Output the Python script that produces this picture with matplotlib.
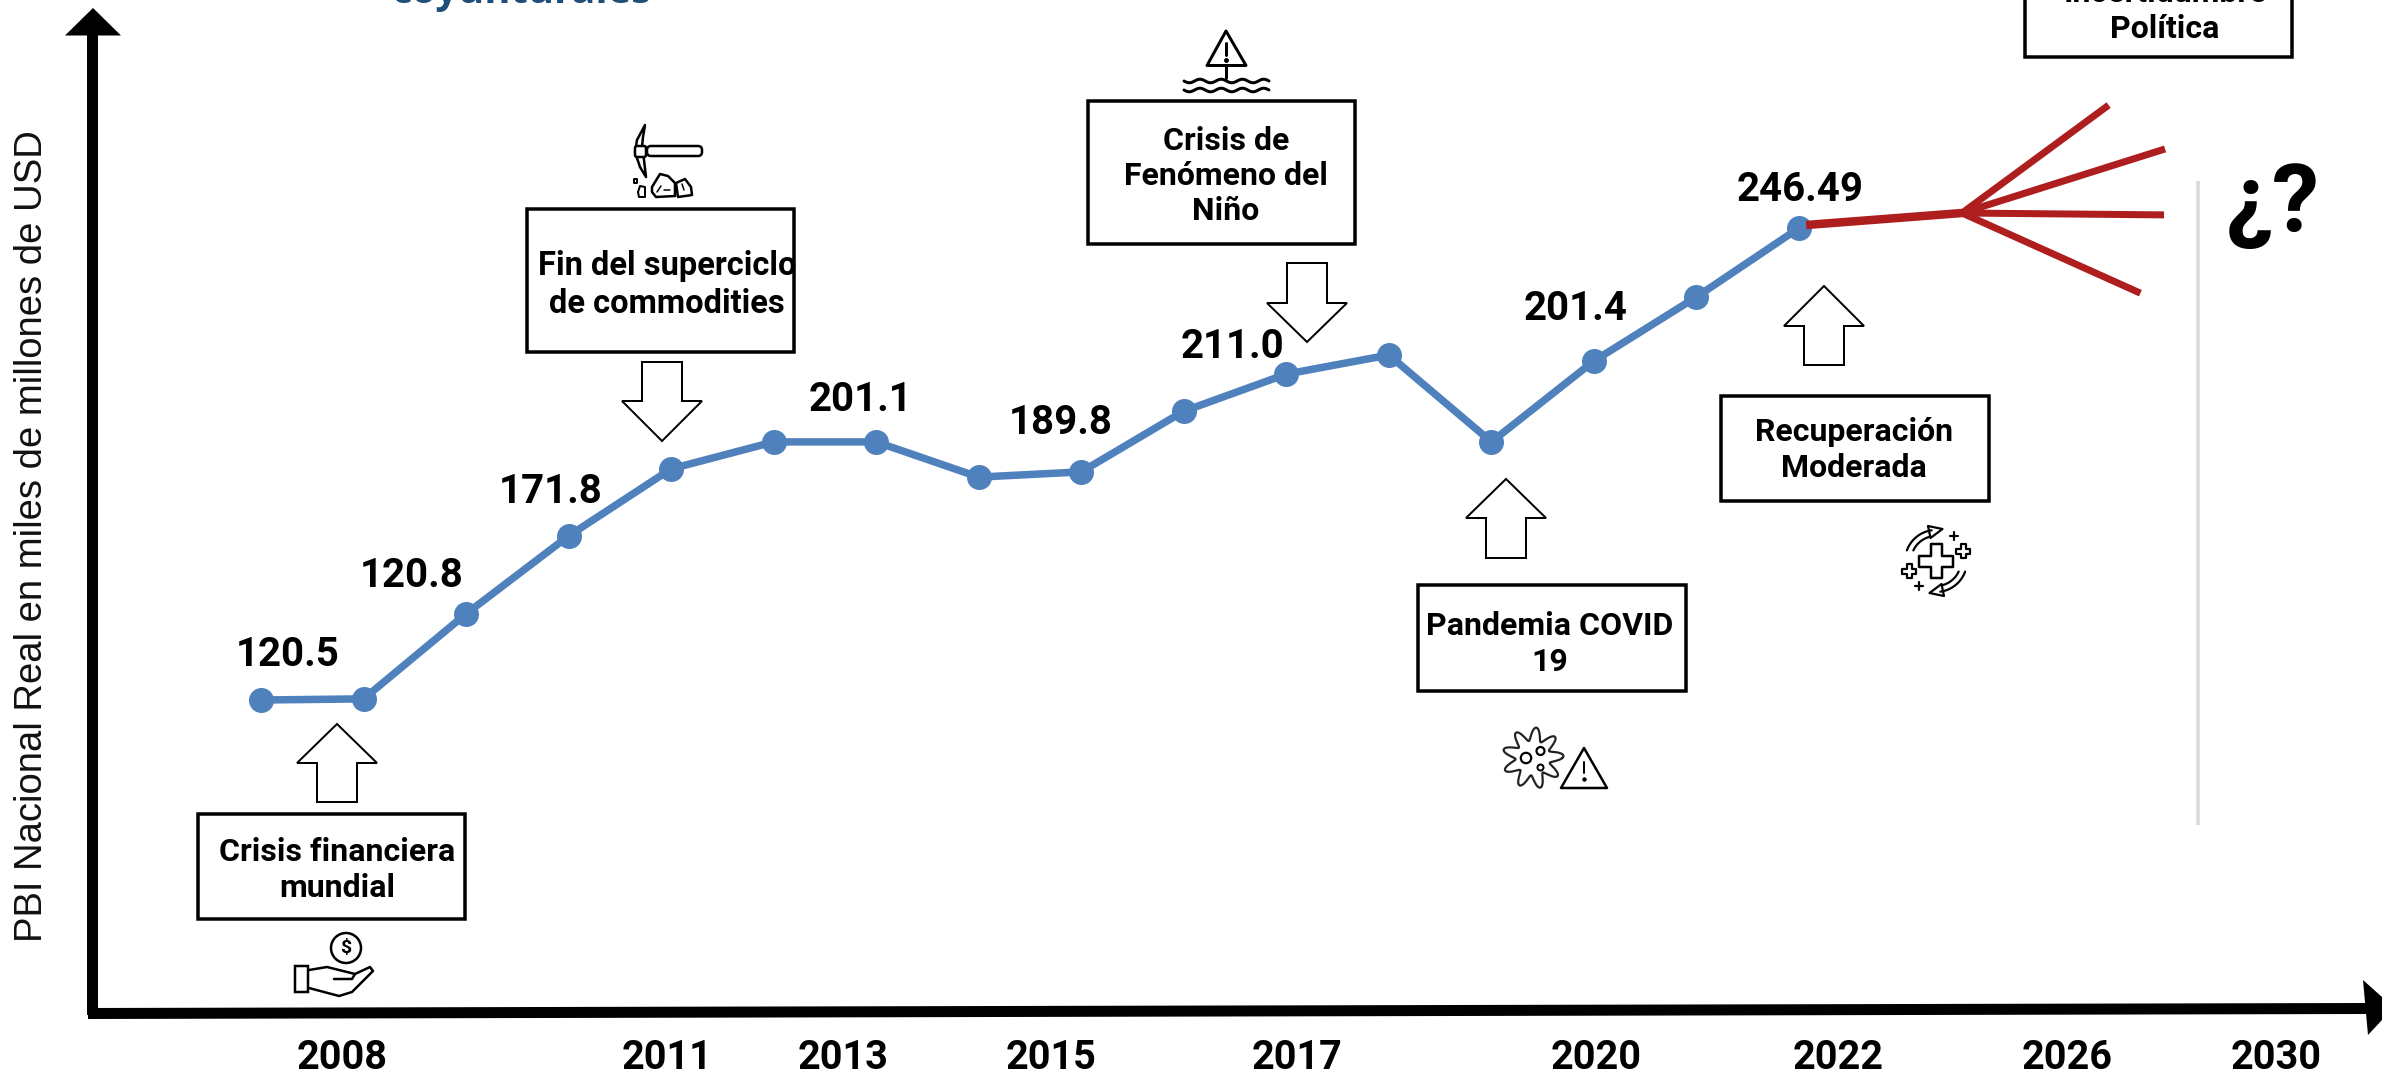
#!/usr/bin/env python3
import numpy as np
import matplotlib
matplotlib.use("Agg")
import matplotlib.pyplot as plt
from matplotlib.patches import Polygon, Rectangle, Circle, FancyBboxPatch

#data--------------------------------------------------------------------------
years = [2007, 2008, 2009, 2010, 2011, 2012, 2013, 2014, 2015, 2016, 2017, 2018,
         2019, 2020, 2021, 2022]
pbi = [120.5, 120.8, 143.5, 164.3, 182.2, 189.4, 189.4, 180.0, 181.4, 197.6, 207.5,
       212.6, 189.4, 211.0, 228.1, 246.49]

trunk_years = [2022.07, 2023.59]
trunk_vals = [247.3, 250.5]
branch_years = [2025.02, 2025.57, 2025.56, 2025.33]
branch_vals = [279.3, 267.6, 250.0, 229.1]

tick_labels = ['2008', '2011', '2013', '2015', '2017', '2020', '2022', '2026', '2030']
value_labels = ['120.5', '120.8', '171.8', '201.1', '189.8', '211.0', '201.4', '246.49']

box_texts = ['Crisis financiera\nmundial', 'Fin del superciclo\nde commodities',
             'Crisis de\nFenómeno del\nNiño', 'Pandemia COVID\n19',
             'Recuperación\nModerada', 'Incertidumbre\nPolítica']

#layout in pixels of the 2382x1075 picture-------------------------------------
W, H = 2382, 1075
tick_x = [342, 667, 843, 1051, 1297, 1596, 1838, 2067, 2276]
label_xy = [(288, 655), (412, 576), (551, 492), (860, 400), (1061, 423), (1232, 347),
            (1576, 309), (1800, 190)]
boxes = [(198, 814, 465, 919), (527, 209, 794, 352), (1088, 101, 1355, 244),
         (1418, 585, 1686, 691), (1721, 396, 1989, 501), (2025, -40, 2292, 57)]
box_text_xy = [(337, 870), (667, 285), (1226, 176), (1550, 644), (1854, 450), (2165, 11)]
# x centre, tip y, shoulder y, tail y
arrows = [(337, 724, 763, 802), (662, 441, 401, 362), (1307, 342, 303, 263),
          (1506, 479, 518, 558), (1824, 286, 326, 365)]

BLUE = '#4F81BD'
RED = '#AE1E1E'
FONT = 'Roboto'


def px(v):
    return v * 0.72  # pixels to points at dpi 100


fig = plt.figure(figsize=(W / 100, H / 100), dpi=100)

#series axes, scales set so that 2007 and 2022 land under the markers
ax = fig.add_axes([0, 0, 1, 1])
step = (1799 - 261) / 15
ax.set_xlim(2007 - 261 / step, 2007 + (W - 261) / step)
ax.set_ylim(120.5 - 375 * 0.26695, 120.5 + 700 * 0.26695)
ax.axis('off')

#overlay in pixels for axes arrows, boxes and icons
ov = fig.add_axes([0, 0, 1, 1], zorder=3)
ov.set_xlim(0, W)
ov.set_ylim(H, 0)
ov.axis('off')
ov.patch.set_alpha(0)

ax.plot(years, pbi, color=BLUE, lw=px(7.5), marker='o', ms=px(25), mew=0, zorder=3)
ax.plot(trunk_years, trunk_vals, color=RED, lw=px(8.5), solid_capstyle='butt', zorder=4)
for by, bv in zip(branch_years, branch_vals):
    ax.plot([trunk_years[1], by], [trunk_vals[1], bv], color=RED, lw=px(7),
            solid_capstyle='butt', zorder=4)

#axes arrows-------------------------------------------------------------------
ov.add_patch(Rectangle((87, 30), 10.5, 985, color='black', lw=0))
ov.add_patch(Polygon([(93, 8), (65, 35.5), (121, 35.5)], color='black', lw=0))
ov.add_patch(Polygon([(88, 1008), (2366, 1003), (2366, 1014), (88, 1019)], color='black', lw=0))
ov.add_patch(Polygon([(2363, 980), (2382, 997), (2382, 1020), (2368, 1035)], color='black', lw=0))

ov.plot([2198, 2198], [181, 825], color='#D9D9D9', lw=px(3.5), solid_capstyle='butt')

#text--------------------------------------------------------------------------
ov.text(32, 536, 'PBI Nacional Real en miles de millones de USD', rotation=90, ha='center',
        va='center', family='Liberation Sans', fontsize=27.5, color='#111111')
ov.text(521, 3, 'coyunturales', ha='center', va='baseline', family='Open Sans',
        weight='bold', fontsize=28.7, color='#1F4E79')
for x, t in zip(tick_x, tick_labels):
    ov.text(x, 1058, t, ha='center', va='center', family=FONT, weight='bold', fontsize=28.5)
for (x, y), t in zip(label_xy, value_labels):
    ov.text(x, y, t, ha='center', va='center', family=FONT, weight='bold', fontsize=29)
ov.text(2273, 205, '¿?', ha='center', va='center', family=FONT, weight='bold', fontsize=68)

for (x0, y0, x1, y1), (tx, ty), t in zip(boxes, box_text_xy, box_texts):
    ov.add_patch(Rectangle((x0, y0), x1 - x0, y1 - y0, fc='white', ec='black', lw=px(3.5), zorder=2))
    fs = 23.5 if t.startswith('Fin') else 23
    ov.text(tx, ty, t, ha='center', va='center', family=FONT, weight='bold', fontsize=fs,
            linespacing=1.22, zorder=3)

#block arrows------------------------------------------------------------------
for xc, tip, sh, tail in arrows:
    ov.add_patch(Polygon([(xc, tip), (xc - 40, sh), (xc - 20, sh), (xc - 20, tail),
                          (xc + 20, tail), (xc + 20, sh), (xc + 40, sh)],
                         fc='white', ec='black', lw=px(2), joinstyle='miter', zorder=2))


#icons-------------------------------------------------------------------------
def line(xs, ys, lw=2.5, color='black'):
    ov.plot(xs, ys, color=color, lw=px(lw), solid_capstyle='round', solid_joinstyle='round')


def outline(pts, lw=2.5, fc='white'):
    ov.add_patch(Polygon(pts, fc=fc, ec='black', lw=px(lw), joinstyle='round'))


def ring(x, y, r, lw=2.5):
    ov.add_patch(Circle((x, y), r, fc='white', ec='black', lw=px(lw)))


def arc(xc, yc, r, a0, a1, lw=2.5):
    t = np.radians(np.linspace(a0, a1, 30))
    line(xc + r * np.cos(t), yc + r * np.sin(t), lw)


# pickaxe and rocks
outline([(645, 125), (637, 140), (635, 152), (640, 167), (646, 177), (644, 160), (642, 147),
         (643, 137)], 2.5)
ov.add_patch(FancyBboxPatch((647, 146), 55, 10, boxstyle='round,pad=0,rounding_size=4',
                            fc='white', ec='black', lw=px(2.5)))
ov.add_patch(FancyBboxPatch((635, 146), 11, 11, boxstyle='round,pad=0,rounding_size=2',
                            fc='white', ec='black', lw=px(2.5)))
outline([(634, 179), (637, 179), (637, 183), (634, 183)], 2)
outline([(640, 186), (645, 187), (645, 197), (639, 197), (638, 192)], 2)
outline([(652, 187), (660, 174), (668, 176), (675, 183), (675, 196), (656, 197), (652, 192)], 2.5)
outline([(676, 183), (685, 179), (691, 187), (692, 195), (678, 197)], 2.5)
line([657, 661], [192, 186], 1.5)
line([664, 670], [190, 190], 1.5)
line([684, 682], [190, 184], 1.5)

# warning sign over water
outline([(1226, 31), (1207, 65.5), (1246, 65.5)], 3)
line([1226, 1226], [43, 55], 3)
ov.plot([1226], [60], 'o', color='black', ms=px(3.5))
line([1226, 1226], [66, 78], 3)
wx = np.linspace(1184, 1269, 60)
for wy in [81, 90]:
    line(wx, wy + 1.8 * np.sin((wx - 1184) / 85 * 2 * np.pi * 4), 3)

# coin in hand
ov.add_patch(Circle((346, 948), 15, fc='white', ec='black', lw=px(2.5)))
ov.text(346, 948, '$', ha='center', va='center', family=FONT, weight='bold', fontsize=14)
ov.add_patch(Rectangle((295, 966), 13, 26, fc='white', ec='black', lw=px(2.5)))
line([309, 327, 347, 355, 370, 373, 352, 339, 309], [970, 967, 972, 974, 967, 971, 992, 996, 988], 2.5)
line([334, 352, 355], [979, 979, 974], 2.5)

# virus and warning triangle
t = np.linspace(0, 2 * np.pi, 240)
r = 24 + 6.5 * np.cos(9 * t + 0.6)
line(1533 + r * np.cos(t), 758 + r * np.sin(t), 2.2, '#222222')
ring(1526, 758, 5.2, 2.2)
ring(1540.5, 751, 4, 2.2)
ring(1540.5, 767.5, 3, 2)
outline([(1584, 748), (1561, 788), (1607, 788)], 2.5)
line([1584, 1584], [762, 773], 2)
ov.plot([1584], [779], 'o', color='black', ms=px(3))

# recovery cross
a, b = 17, 5.5
cx, cy = 1936, 561
outline([(cx - b, cy - a), (cx + b, cy - a), (cx + b, cy - b), (cx + a, cy - b), (cx + a, cy + b),
         (cx + b, cy + b), (cx + b, cy + a), (cx - b, cy + a), (cx - b, cy + b), (cx - a, cy + b),
         (cx - a, cy - b), (cx - b, cy - b)], 2.5)
for sg in [1, -1]:
    arc(cx, cy, 31, 200 if sg > 0 else 20, 262 if sg > 0 else 82, 2.2)
    arc(cx, cy, 25, 205 if sg > 0 else 25, 255 if sg > 0 else 75, 2.2)
    outline([(cx - sg * 8, cy - sg * 35), (cx + sg * 6.5, cy - sg * 32), (cx - sg * 5.5, cy - sg * 23)], 2.2)
for x, y in [(1954, 536), (1919, 586)]:
    line([x - 4, x + 4], [y, y], 2.2)
    line([x, x], [y - 4, y + 4], 2.2)
for x, y in [(1963, 551), (1909, 571)]:
    aa, bb = 7, 2.5
    outline([(x - bb, y - aa), (x + bb, y - aa), (x + bb, y - bb), (x + aa, y - bb), (x + aa, y + bb),
             (x + bb, y + bb), (x + bb, y + aa), (x - bb, y + aa), (x - bb, y + bb), (x - aa, y + bb),
             (x - aa, y - bb), (x - bb, y - bb)], 2.2)

fig.savefig('out.png', dpi=100)
